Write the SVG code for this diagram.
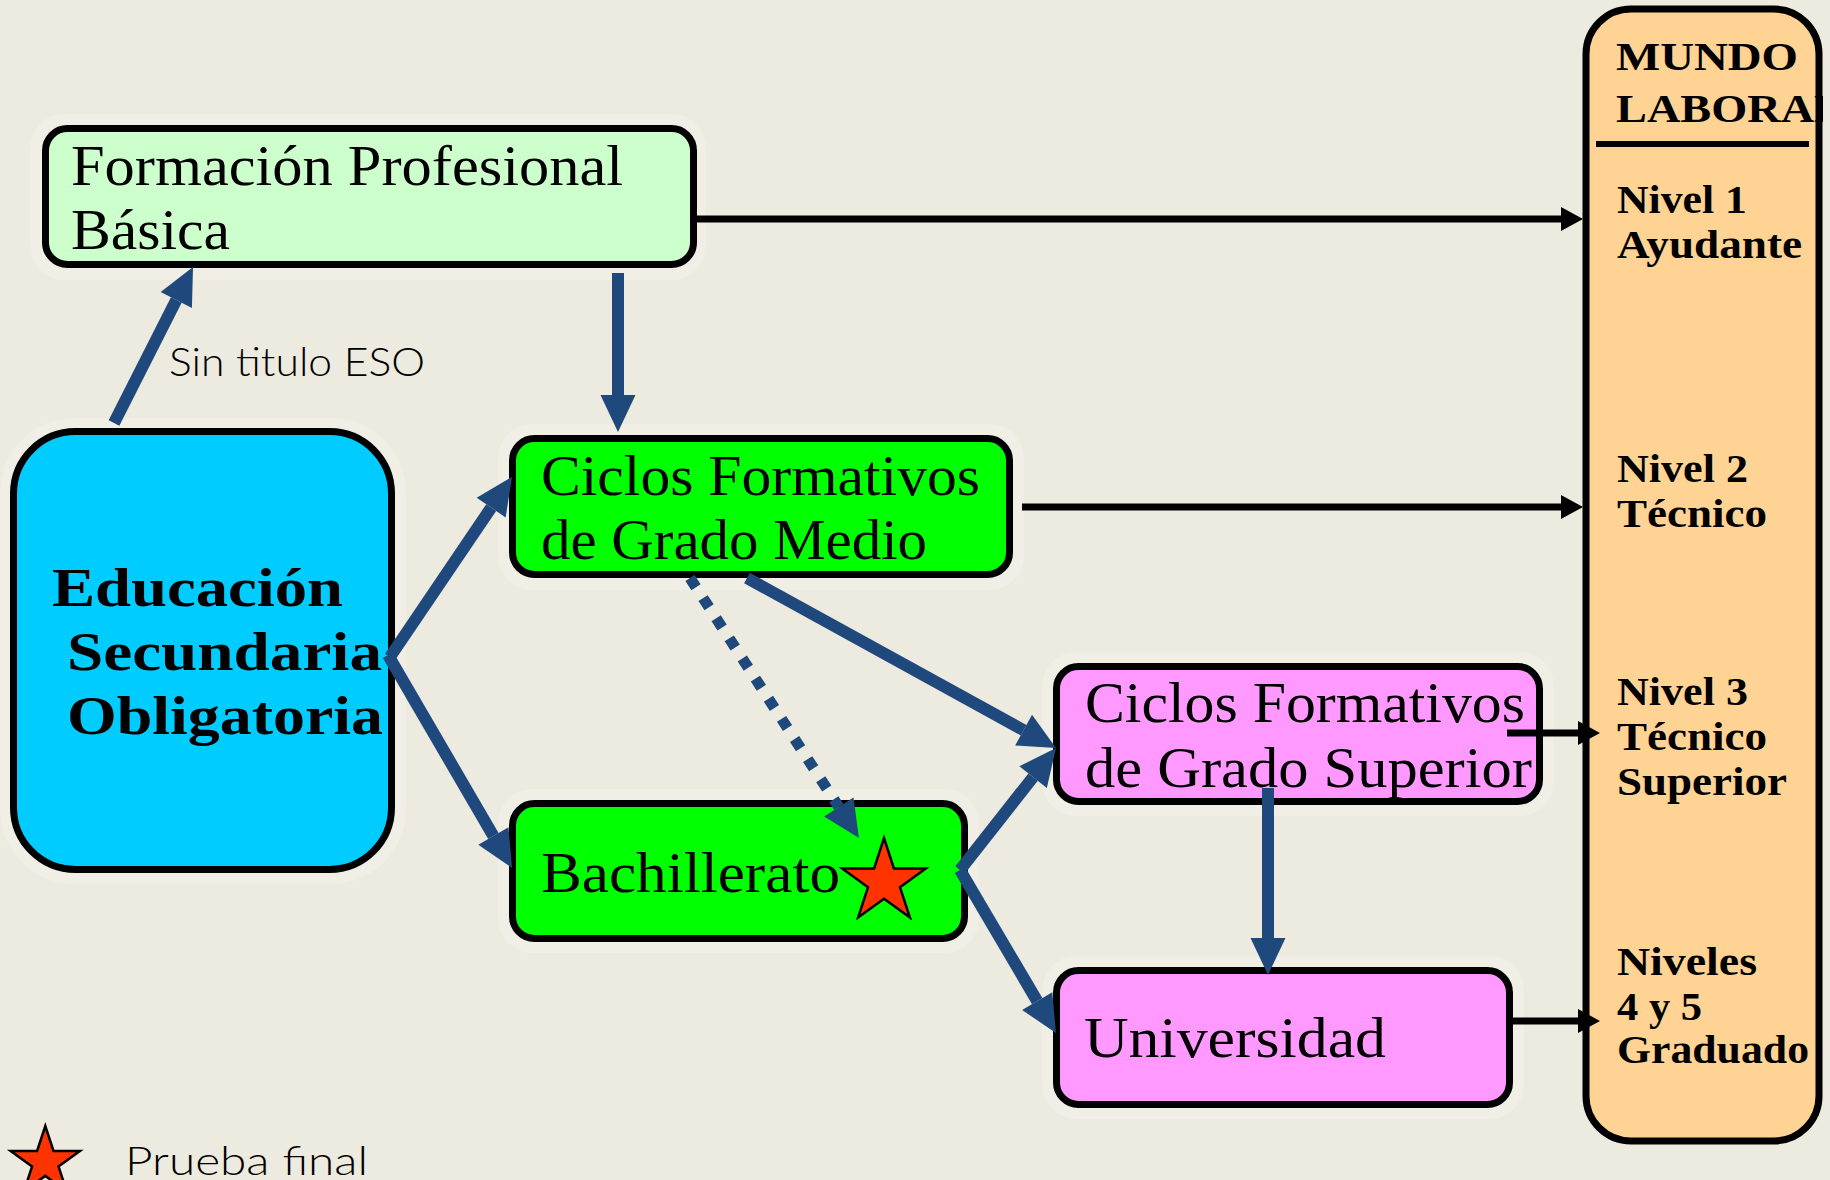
<svg xmlns="http://www.w3.org/2000/svg" width="1830" height="1180" viewBox="0 0 1830 1180">
<defs>
<style>
.box{stroke:#000;stroke-width:7}
.halo{fill:#F0EEE5}
.t{font-family:"Liberation Serif","Times New Roman",serif;font-size:57px;fill:#000}
.tb{font-family:"Liberation Serif","Times New Roman",serif;font-weight:bold;font-size:55px;fill:#000}
.tn{font-family:"Liberation Serif","Times New Roman",serif;font-weight:bold;font-size:41px;fill:#000}
.s{font-family:Lato,"Liberation Sans",sans-serif;font-weight:300;font-size:40px;fill:#000}
.blue{stroke:#1F497D;stroke-width:12;fill:none}
.dot{stroke:#1F497D;stroke-width:11;fill:none;stroke-dasharray:11 13}
.blk{stroke:#000;stroke-width:7;fill:none}
.star{fill:#FF3300;stroke:#000;stroke-width:2.5;stroke-linejoin:miter}
</style>
<marker id="ab" markerUnits="userSpaceOnUse" markerWidth="40" markerHeight="36" refX="0" refY="17.5" orient="auto" overflow="visible">
<path d="M0,0 L37,17.5 L0,35 z" fill="#1F497D"/>
</marker>
<marker id="ak" markerUnits="userSpaceOnUse" markerWidth="24" markerHeight="24" refX="0" refY="12" orient="auto" overflow="visible">
<path d="M0,0 L22,12 L0,24 z" fill="#000"/>
</marker>
<clipPath id="clipM"><rect x="0" y="0" width="1823" height="1180"/></clipPath>
</defs>
<rect x="0" y="0" width="1830" height="1180" fill="#EDEADF"/>

<g id="fpb">
<rect class="halo" x="30" y="114" width="676" height="166" rx="34"/>
<rect class="box" x="45.5" y="128.5" width="648" height="136" rx="22" fill="#CCFFCC"/>
<text class="t" x="71" y="185" textLength="552" lengthAdjust="spacingAndGlyphs">Formación Profesional</text>
<text class="t" x="71" y="249" textLength="159" lengthAdjust="spacingAndGlyphs">Básica</text>
</g>

<g id="eso">
<rect class="halo" x="0" y="418" width="406" height="466" rx="74"/>
<rect class="box" x="13.5" y="431.5" width="378" height="438" rx="62" fill="#00CCFF"/>
<text class="tb" x="52" y="606" textLength="291" lengthAdjust="spacingAndGlyphs">Educación</text>
<text class="tb" x="67" y="670" textLength="315" lengthAdjust="spacingAndGlyphs">Secundaria</text>
<text class="tb" x="67" y="734" textLength="316" lengthAdjust="spacingAndGlyphs">Obligatoria</text>
</g>

<g id="cfgm">
<rect class="halo" x="498" y="424" width="526" height="166" rx="34"/>
<rect class="box" x="512.5" y="438.5" width="497" height="136" rx="22" fill="#00FF00"/>
<text class="t" x="541" y="495" textLength="439" lengthAdjust="spacingAndGlyphs">Ciclos Formativos</text>
<text class="t" x="541" y="559" textLength="386" lengthAdjust="spacingAndGlyphs">de Grado Medio</text>
</g>

<g id="bach">
<rect class="halo" x="498" y="789" width="481" height="164" rx="34"/>
<rect class="box" x="512.5" y="803.5" width="452" height="135" rx="22" fill="#00FF00"/>
<text class="t" x="541" y="892" textLength="299" lengthAdjust="spacingAndGlyphs">Bachillerato</text>
<polygon class="star" points="884,838 893.9,868.4 925.8,868.4 900,887.2 909.9,917.6 884,898.8 858.1,917.6 868,887.2 842.2,868.4 874.1,868.4"/>
</g>

<g id="cfgs">
<rect class="halo" x="1042" y="652" width="512" height="164" rx="34"/>
<rect class="box" x="1056.5" y="666.5" width="483" height="135" rx="22" fill="#FF99FF"/>
<text class="t" x="1085" y="722" textLength="440" lengthAdjust="spacingAndGlyphs">Ciclos Formativos</text>
<text class="t" x="1085" y="787" textLength="447" lengthAdjust="spacingAndGlyphs">de Grado Superior</text>
</g>

<g id="univ">
<rect class="halo" x="1042" y="956" width="482" height="163" rx="34"/>
<rect class="box" x="1056.5" y="970.5" width="453" height="134" rx="22" fill="#FF99FF"/>
<text class="t" x="1084" y="1057" textLength="302" lengthAdjust="spacingAndGlyphs">Universidad</text>
</g>

<g id="mundo">
<rect class="box" x="1586" y="9" width="233" height="1132" rx="45" fill="#FFD393"/>
<g clip-path="url(#clipM)">
<text class="tn" x="1616" y="70" textLength="182" lengthAdjust="spacingAndGlyphs">MUNDO</text>
<text class="tn" x="1616" y="122" textLength="229" lengthAdjust="spacingAndGlyphs">LABORAL</text>
</g>
<line x1="1596" y1="144" x2="1809" y2="144" stroke="#000" stroke-width="6"/>
<text class="tn" x="1617" y="213" textLength="130" lengthAdjust="spacingAndGlyphs">Nivel 1</text>
<text class="tn" x="1617" y="258" textLength="185" lengthAdjust="spacingAndGlyphs">Ayudante</text>
<text class="tn" x="1617" y="482" textLength="131" lengthAdjust="spacingAndGlyphs">Nivel 2</text>
<text class="tn" x="1617" y="527" textLength="150" lengthAdjust="spacingAndGlyphs">Técnico</text>
<text class="tn" x="1617" y="705" textLength="131" lengthAdjust="spacingAndGlyphs">Nivel 3</text>
<text class="tn" x="1617" y="750" textLength="150" lengthAdjust="spacingAndGlyphs">Técnico</text>
<text class="tn" x="1617" y="795" textLength="170" lengthAdjust="spacingAndGlyphs">Superior</text>
<text class="tn" x="1617" y="975" textLength="140" lengthAdjust="spacingAndGlyphs">Niveles</text>
<text class="tn" x="1617" y="1020" textLength="85" lengthAdjust="spacingAndGlyphs">4 y 5</text>
<text class="tn" x="1617" y="1063" textLength="192" lengthAdjust="spacingAndGlyphs">Graduado</text>
</g>

<g id="connectors">
<line class="blue" x1="114" y1="423" x2="176.3" y2="300" marker-end="url(#ab)"/>
<text class="s" x="169" y="376" textLength="256" lengthAdjust="spacingAndGlyphs">Sin titulo ESO</text>
<line class="blue" x1="618" y1="273" x2="618" y2="395" marker-end="url(#ab)"/>
<line class="blue" x1="390" y1="657" x2="491.2" y2="507.6" marker-end="url(#ab)"/>
<line class="blue" x1="388" y1="655" x2="493.4" y2="836" marker-end="url(#ab)"/>
<line class="blue" x1="747" y1="578" x2="1023.6" y2="730.2" marker-end="url(#ab)"/>
<line class="dot" x1="690" y1="578" x2="838.8" y2="807" marker-end="url(#ab)"/>
<line class="blue" x1="960" y1="870" x2="1033.1" y2="777.1" marker-end="url(#ab)"/>
<line class="blue" x1="960" y1="870" x2="1037.2" y2="1001.1" marker-end="url(#ab)"/>
<line class="blue" x1="1268" y1="788" x2="1268" y2="938" marker-end="url(#ab)"/>
<line class="blk" x1="697" y1="219" x2="1561" y2="219" marker-end="url(#ak)"/>
<line class="blk" x1="1022" y1="507" x2="1561" y2="507" marker-end="url(#ak)"/>
<line class="blk" x1="1507" y1="733" x2="1578" y2="733" marker-end="url(#ak)"/>
<line class="blk" x1="1513" y1="1021" x2="1578" y2="1021" marker-end="url(#ak)"/>
</g>

<g id="legend">
<polygon class="star" points="45.3,1126 53.5,1150.9 79.9,1150.9 58.5,1166.4 66.7,1191.3 45.3,1175.9 23.9,1191.3 32.1,1166.4 10.7,1150.9 37.1,1150.9"/>
<text class="s" x="125" y="1175" textLength="243" lengthAdjust="spacingAndGlyphs">Prueba final</text>
</g>
</svg>
